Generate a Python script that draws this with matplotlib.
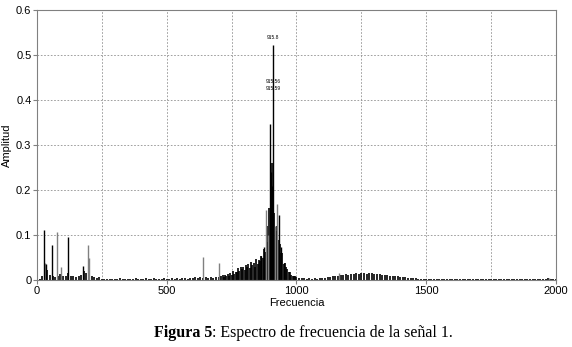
import numpy as np
import matplotlib.pyplot as plt

plt.rcParams['font.family'] = ['Liberation Sans', 'DejaVu Sans']

# spectrum amplitudes, 10 Hz bins from 0 to 2000 Hz
bin_freqs = np.arange(0, 2001, 10)
bin_amps = [
    0.001, 0.003, 0.008, 0.018, 0.022, 0.012, 0.010, 0.006, 0.009, 0.013,
    0.008, 0.010, 0.016, 0.010, 0.008, 0.006, 0.010, 0.012, 0.020, 0.015,
    0.012, 0.008, 0.006, 0.004, 0.006, 0.003, 0.002, 0.003, 0.002, 0.002,
    0.003, 0.002, 0.004, 0.002, 0.003, 0.002, 0.003, 0.002, 0.004, 0.002,
    0.003, 0.002, 0.005, 0.002, 0.003, 0.004, 0.002, 0.003, 0.002, 0.004,
    0.003, 0.002, 0.004, 0.003, 0.005, 0.003, 0.004, 0.005, 0.003, 0.005,
    0.004, 0.006, 0.004, 0.007, 0.005, 0.006, 0.004, 0.007, 0.005, 0.006,
    0.006, 0.008, 0.007, 0.010, 0.009, 0.012, 0.014, 0.017, 0.020, 0.024,
    0.022, 0.030, 0.026, 0.034, 0.030, 0.036, 0.042, 0.048, 0.062, 0.085,
    0.150, 0.190, 0.110, 0.090, 0.060, 0.035, 0.028, 0.018, 0.012, 0.008,
    0.006, 0.005, 0.004, 0.004, 0.003, 0.004, 0.003, 0.004, 0.003, 0.004,
    0.004, 0.005, 0.006, 0.007, 0.008, 0.009, 0.010, 0.011, 0.012, 0.013,
    0.012, 0.014, 0.013, 0.015, 0.014, 0.016, 0.015, 0.014, 0.016, 0.015,
    0.014, 0.013, 0.014, 0.012, 0.011, 0.012, 0.010, 0.009, 0.008, 0.008,
    0.007, 0.006, 0.006, 0.005, 0.005, 0.004, 0.004, 0.003, 0.003, 0.003,
    0.003, 0.002, 0.003, 0.002, 0.003, 0.002, 0.002, 0.003, 0.002, 0.002,
    0.003, 0.002, 0.002, 0.003, 0.002, 0.003, 0.002, 0.002, 0.003, 0.002,
    0.002, 0.003, 0.002, 0.002, 0.003, 0.002, 0.003, 0.002, 0.002, 0.003,
    0.002, 0.003, 0.002, 0.002, 0.003, 0.002, 0.002, 0.003, 0.002, 0.003,
    0.002, 0.003, 0.002, 0.003, 0.002, 0.002, 0.003, 0.004, 0.003, 0.002,
    0.002,
]

# in-between lines of the main cluster
cluster_freqs = [705, 715, 725, 735, 745, 755, 765, 775, 785, 795,
                 805, 815, 825, 835, 845, 855, 865, 875, 885, 895,
                 905, 915, 925, 935, 945, 955, 965, 975, 985, 995]
cluster_amps = [0.010, 0.012, 0.011, 0.014, 0.016, 0.020, 0.018, 0.026, 0.030, 0.028,
                0.034, 0.036, 0.040, 0.038, 0.046, 0.044, 0.053, 0.070, 0.120, 0.160,
                0.260, 0.150, 0.120, 0.080, 0.060, 0.038, 0.025, 0.018, 0.010, 0.008]

# isolated peaks (black)
peak_freqs = [28, 35, 59, 120, 177, 865, 876, 897, 901, 907, 911, 931, 942, 953]
peak_amps = [0.112, 0.036, 0.078, 0.095, 0.032, 0.053, 0.073, 0.347, 0.24, 0.209,
             0.522, 0.144, 0.073, 0.038]

# isolated peaks (gray)
gray_freqs = [31, 78, 91, 195, 200, 640, 700, 883, 890, 918, 923, 1165, 1973]
gray_amps = [0.038, 0.107, 0.029, 0.078, 0.049, 0.051, 0.038, 0.156, 0.10, 0.12,
             0.169, 0.016, 0.005]

fig = plt.figure(figsize=(5.72, 3.47), dpi=100)
ax = fig.add_axes([0.0647, 0.193, 0.9073, 0.778])

ax.vlines(bin_freqs, 0, bin_amps, color='black', lw=1.2)
ax.vlines(cluster_freqs, 0, cluster_amps, color='black', lw=1.2)
ax.vlines(gray_freqs, 0, gray_amps, color='#808080', lw=1.0)
ax.vlines(peak_freqs, 0, peak_amps, color='black', lw=1.0)

ax.text(911, 0.535, '915.8', fontsize=3.5, ha='center')
ax.text(911, 0.438, '915.56', fontsize=3.5, ha='center')
ax.text(911, 0.422, '915.59', fontsize=3.5, ha='center')

ax.set_xlim(0, 2000)
ax.set_ylim(0, 0.6)
ax.set_xticks([0, 500, 1000, 1500, 2000])
ax.set_xticks([250, 750, 1250, 1750], minor=True)
ax.set_yticks([0, 0.1, 0.2, 0.3, 0.4, 0.5, 0.6])
ax.set_yticklabels(['0', '0.1', '0.2', '0.3', '0.4', '0.5', '0.6'])
ax.tick_params(labelsize=8, length=3, color='#808080', pad=1)
ax.tick_params(which='minor', length=0)
ax.grid(True, which='both', color='#909090', lw=0.6, linestyle=(0, (2, 2)))
ax.set_axisbelow(True)
for s in ax.spines.values():
    s.set_color('#808080')

ax.set_xlabel('Frecuencia', fontsize=8, labelpad=2)
ax.set_ylabel('Amplitud', fontsize=8, labelpad=3)

fig.text(0.3706, 0.03, 'Figura 5', family='Liberation Serif', fontsize=11.5,
         weight='bold', ha='right')
fig.text(0.3706, 0.03, ': Espectro de frecuencia de la señal 1.',
         family='Liberation Serif', fontsize=11.5, ha='left')

plt.savefig('out.png', dpi=100)
